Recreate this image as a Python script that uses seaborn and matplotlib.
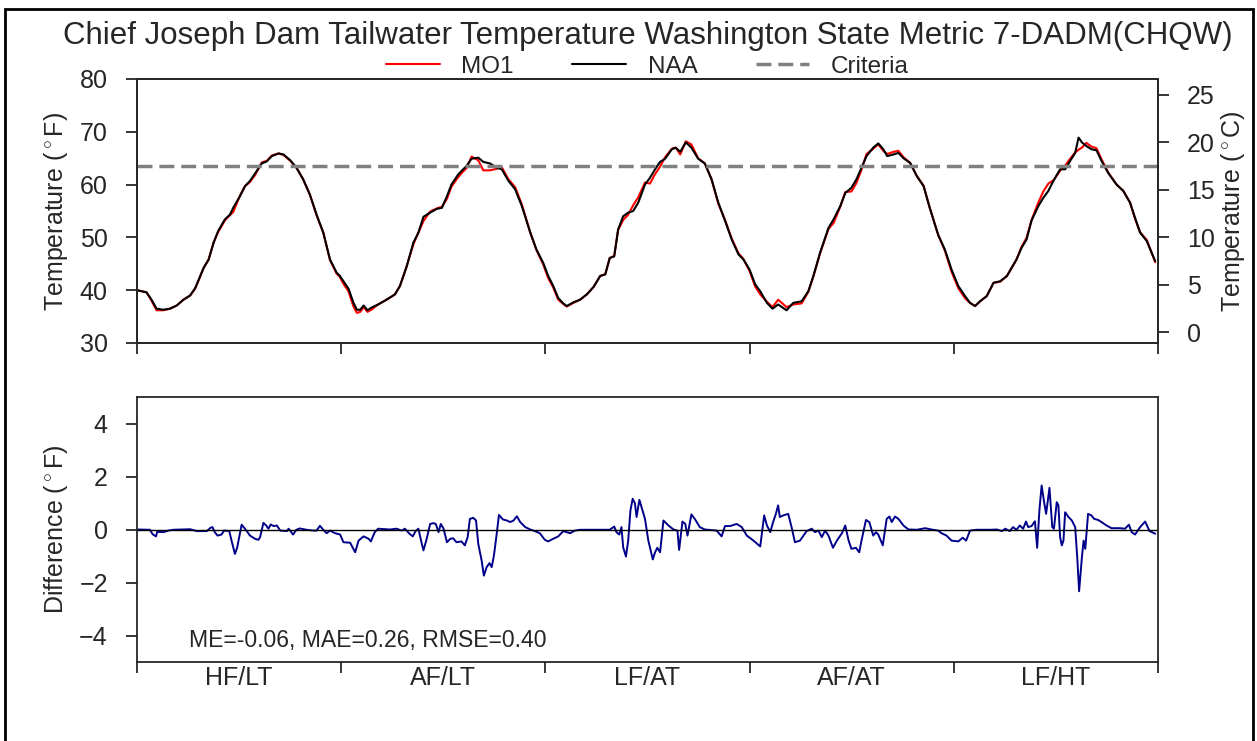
import numpy as np
import matplotlib
matplotlib.use("Agg")
import matplotlib.pyplot as plt
import seaborn as sns
from matplotlib.patches import Rectangle

# ==========================================
# Data (day index 0..1825, 5 years of 365 days)
# ==========================================
naa_day = [
    0, 17, 26, 35, 47, 59, 71, 83, 95, 104, 113, 119, 128, 137, 145, 157, 166, 172, 184, 193,
    202, 211, 223, 232, 241, 253, 262, 274, 285, 297, 309, 321, 333, 345, 357, 362,
    369, 378, 387, 393, 399, 405, 412, 419, 431, 446, 461, 470, 482, 494, 503, 512, 524, 536,
    545, 554, 562, 574, 583, 589, 598, 610, 619, 631, 643, 652, 664, 676, 688, 703, 714, 726,
    735, 744, 753, 762, 768, 780, 792, 804, 816, 828, 837, 845, 853, 860, 869, 878, 887, 896,
    908, 917, 926, 935, 944, 956, 963, 971, 981, 991, 1003, 1015, 1027, 1039, 1051, 1063, 1075, 1084, 1095,
    1105, 1114, 1126, 1136, 1146, 1161, 1173, 1188, 1200, 1209, 1221, 1236, 1245, 1257, 1266, 1277, 1286,
    1295, 1304, 1316, 1325, 1334, 1341, 1352, 1361, 1370, 1382, 1394, 1406, 1417, 1432, 1444, 1456,
    1468, 1480, 1489, 1498, 1507, 1519, 1531, 1543, 1555, 1563, 1572, 1581, 1590, 1599, 1611, 1620, 1629, 1638,
    1650, 1659, 1668, 1677, 1683, 1689, 1697, 1706, 1715, 1724, 1736, 1751, 1763, 1775, 1784, 1793, 1805, 1820,
]
naa_f = [
    40.0, 39.6, 38.2, 36.5, 36.3, 36.5, 37.1, 38.2, 39.0, 40.4, 42.7, 44.2, 45.8, 49.0, 51.2, 53.4, 54.3, 55.6, 57.8, 59.7,
    60.7, 62.1, 64.0, 64.4, 65.4, 65.9, 65.7, 64.6, 63.2, 61.0, 58.1, 54.3, 50.9, 45.8, 43.3, 42.8,
    41.7, 40.3, 37.6, 36.3, 36.3, 37.1, 36.2, 36.7, 37.3, 38.2, 39.2, 40.8, 44.5, 49.0, 50.9, 53.9, 54.7, 55.4,
    55.6, 57.8, 60.0, 61.9, 62.9, 63.5, 64.9, 65.1, 64.3, 64.0, 63.2, 62.9, 60.7, 59.1, 55.9, 50.9, 47.7, 45.2,
    42.7, 40.8, 38.5, 37.5, 37.0, 37.7, 38.2, 39.2, 40.6, 42.7, 43.0, 46.1, 46.4, 51.5, 54.0, 54.7, 55.0, 56.6,
    60.0, 61.3, 62.9, 64.3, 64.9, 66.7, 67.0, 66.2, 68.0, 67.0, 64.9, 64.0, 61.0, 56.6, 53.2, 49.6, 46.8, 45.8, 43.9,
    41.1, 39.8, 37.6, 36.5, 37.3, 36.2, 37.6, 37.9, 39.8, 42.7, 47.1, 51.8, 53.4, 55.9, 58.4, 59.4, 61.0,
    63.2, 65.4, 67.0, 67.8, 66.7, 65.4, 65.7, 66.0, 65.0, 64.1, 61.6, 59.7, 55.6, 50.5, 47.7, 43.9,
    40.8, 38.9, 37.6, 37.0, 37.9, 38.9, 41.4, 41.7, 42.7, 44.2, 45.8, 48.0, 49.6, 53.2, 55.9, 57.5, 58.8, 60.7,
    62.9, 62.9, 64.5, 66.0, 68.9, 68.0, 67.3, 66.7, 66.5, 64.5, 62.2, 60.0, 58.8, 56.6, 53.7, 50.9, 49.3, 45.5,
]
mo1_f = [
    40.0, 39.6, 38.0, 36.2, 36.2, 36.5, 37.1, 38.2, 39.0, 40.3, 42.6, 44.2, 45.8, 49.1, 51.0, 53.2, 54.2, 54.8, 57.9, 59.7,
    60.5, 61.8, 64.2, 64.5, 65.5, 65.9, 65.6, 64.5, 63.2, 61.0, 58.1, 54.2, 50.9, 45.7, 43.1, 42.6,
    41.2, 39.8, 36.9, 35.7, 35.9, 36.8, 35.9, 36.3, 37.3, 38.2, 39.2, 40.8, 44.5, 48.7, 50.9, 53.1, 54.9, 55.5,
    55.8, 57.3, 59.6, 61.4, 62.5, 63.1, 65.3, 64.6, 62.7, 62.7, 63.0, 63.3, 61.0, 59.5, 56.2, 50.9, 47.6, 44.9,
    42.3, 40.5, 38.2, 37.4, 36.9, 37.6, 38.2, 39.2, 40.6, 42.7, 43.0, 46.1, 46.5, 51.4, 53.3, 54.3, 56.1, 57.6,
    60.4, 60.2, 62.0, 63.4, 65.2, 66.8, 67.0, 65.7, 68.2, 67.6, 65.0, 64.0, 61.0, 56.4, 53.3, 49.8, 47.0, 45.9, 43.6,
    40.7, 39.2, 37.8, 36.8, 38.2, 36.8, 37.3, 37.5, 39.7, 42.6, 47.0, 51.6, 52.7, 55.8, 58.6, 58.7, 60.3,
    62.8, 65.8, 66.8, 67.6, 66.4, 65.8, 66.2, 66.4, 65.2, 64.1, 61.6, 59.8, 55.6, 50.5, 47.5, 43.5,
    40.4, 38.5, 37.6, 37.0, 37.9, 38.9, 41.4, 41.6, 42.7, 44.1, 45.8, 48.2, 49.9, 53.3, 56.6, 58.7, 60.2, 60.8,
    62.6, 63.6, 64.9, 66.1, 66.6, 67.0, 67.9, 67.2, 66.9, 64.8, 62.3, 60.0, 58.8, 56.6, 53.5, 51.0, 49.5, 45.3,
]
criteria_f = 63.5

diff_day = [
    0, 23, 28, 34, 36, 47, 56, 65, 95, 107,
    125, 131, 135, 139, 144, 151, 156, 165, 169, 175,
    179, 187, 193, 202, 211, 217, 220, 226, 231, 235,
    239, 244, 250, 256, 268, 271, 279, 285, 291, 303,
    315, 321, 327, 333, 339, 345, 354, 363, 369, 381,
    390, 396, 405, 414, 418, 425, 431, 452, 464, 473,
    479, 487, 493, 498, 503, 507, 512, 517, 524, 530,
    534, 539, 543, 548, 554, 560, 565, 571, 580, 586,
    591, 595, 601, 606, 610, 616, 620, 625, 630, 634,
    638, 643, 647, 654, 661, 667, 673, 679, 685, 694,
    703, 711, 720, 729, 735, 744, 753, 762, 774, 783,
    792, 822, 845, 853, 857, 862, 866, 869, 874, 878,
    882, 886, 890, 893, 898, 908, 914, 922, 926, 930,
    935, 941, 950, 959, 966, 969, 975, 980, 984, 991,
    997, 1006, 1015, 1036, 1045, 1051, 1060, 1072, 1081, 1090,
    1102, 1114, 1121, 1126, 1132, 1137, 1142, 1146, 1149, 1155,
    1164, 1170, 1176, 1185, 1197, 1206, 1212, 1218, 1224, 1230,
    1236, 1244, 1251, 1260, 1266, 1272, 1277, 1285, 1291, 1295,
    1303, 1309, 1316, 1321, 1325, 1333, 1340, 1345, 1349, 1355,
    1361, 1370, 1379, 1394, 1409, 1420, 1432, 1438, 1447, 1456,
    1468, 1476, 1482, 1489, 1501, 1525, 1537, 1546, 1552, 1560,
    1566, 1572, 1578, 1584, 1589, 1593, 1599, 1605, 1609, 1613,
    1617, 1621, 1625, 1631, 1636, 1639, 1644, 1647, 1650, 1653,
    1656, 1659, 1665, 1671, 1677, 1681, 1684, 1689, 1692, 1695,
    1700, 1706, 1711, 1718, 1724, 1733, 1742, 1757, 1766, 1773,
    1778, 1784, 1793, 1802, 1810, 1820,
]
diff_f = [
    0.00, -0.01, -0.18, -0.26, -0.09, -0.10, -0.04, -0.01, 0.01, -0.06,
    -0.06, 0.06, 0.09, -0.10, -0.23, -0.19, -0.04, -0.06, -0.42, -0.92,
    -0.69, 0.18, 0.03, -0.23, -0.35, -0.39, -0.29, 0.25, 0.15, 0.03,
    0.19, 0.13, 0.15, -0.04, -0.06, 0.03, -0.19, -0.01, 0.04, -0.01,
    -0.04, -0.04, 0.14, -0.01, -0.14, -0.04, -0.14, -0.19, -0.48, -0.50,
    -0.86, -0.42, -0.26, -0.35, -0.45, -0.10, 0.03, 0.00, 0.03, -0.04,
    0.03, -0.16, -0.26, -0.06, 0.03, -0.35, -0.79, -0.42, 0.21, 0.24,
    0.21, -0.10, 0.21, 0.03, -0.48, -0.35, -0.33, -0.48, -0.45, -0.60,
    -0.29, 0.40, 0.44, 0.34, -0.54, -1.17, -1.74, -1.42, -1.27, -1.42,
    -0.98, -0.16, 0.55, 0.38, 0.34, 0.28, 0.34, 0.50, 0.28, 0.09,
    0.00, -0.06, -0.14, -0.39, -0.45, -0.35, -0.26, -0.06, -0.14, -0.04,
    -0.01, -0.01, -0.01, 0.11, -0.10, -0.19, 0.09, -0.67, -1.02, -0.42,
    0.72, 1.16, 0.99, 0.47, 1.12, 0.40, -0.42, -1.13, -0.86, -0.69,
    -0.86, 0.34, 0.15, 0.00, -0.04, -0.77, 0.30, 0.21, -0.23, 0.57,
    0.40, 0.09, 0.00, -0.04, -0.26, 0.13, 0.13, 0.21, 0.09, -0.23,
    -0.42, -0.64, 0.53, 0.15, -0.10, 0.28, 0.59, 0.91, 0.47, 0.53,
    0.59, 0.09, -0.48, -0.42, -0.06, 0.03, -0.10, -0.04, -0.29, -0.04,
    -0.23, -0.69, -0.42, -0.14, 0.15, -0.42, -0.73, -0.69, -0.86, -0.42,
    0.36, 0.28, -0.23, -0.10, -0.19, -0.60, 0.40, 0.49, 0.28, 0.49,
    0.40, 0.15, 0.00, -0.01, 0.05, 0.00, -0.04, -0.14, -0.23, -0.42,
    -0.45, -0.31, -0.42, -0.04, -0.01, -0.01, 0.00, -0.06, 0.03, -0.06,
    0.09, -0.01, 0.15, 0.03, 0.30, 0.09, 0.13, 0.31, -0.69, 0.72,
    1.66, 1.09, 0.59, 1.57, 0.09, 0.03, 1.03, 0.91, -0.29, -0.60,
    -0.42, 0.65, 0.47, 0.34, 0.09, -1.17, -2.33, -1.04, -0.42, -0.73,
    0.59, 0.53, 0.40, 0.36, 0.28, 0.15, 0.05, 0.05, 0.03, 0.18,
    -0.10, -0.19, 0.09, 0.30, -0.06, -0.16,
]

year_labels = ["HF/LT", "AF/LT", "LF/AT", "AF/AT", "LF/HT"]
stats_text = "ME=-0.06, MAE=0.26, RMSE=0.40"
title = "Chief Joseph Dam Tailwater Temperature Washington State Metric 7-DADM(CHQW)"

# ==========================================
# Style
# ==========================================
sns.set_theme(style="ticks")
plt.rcParams["font.family"] = ["Liberation Sans", "DejaVu Sans"]
plt.rcParams["mathtext.fontset"] = "custom"
plt.rcParams["mathtext.rm"] = "Liberation Sans"
plt.rcParams["axes.linewidth"] = 1.3

W, H = 1257, 741
fig = plt.figure(figsize=(W / 100, H / 100), dpi=100)
ax = fig.add_axes([137 / W, 1 - 343 / H, 1021 / W, 264 / H])
axd = fig.add_axes([137 / W, 1 - 662 / H, 1021 / W, 265 / H])

edges = np.arange(0, 1826, 365)
centers = edges[:-1] + 182.5

# --- Top panel: temperature ---
sns.lineplot(x=naa_day, y=mo1_f, color="red", lw=1.5, ax=ax, label="MO1")
sns.lineplot(x=naa_day, y=naa_f, color="black", lw=1.5, ax=ax, label="NAA")
ax.axhline(criteria_f, color="gray", ls=(0, (4.3, 2)), lw=2.5, label="Criteria")
ax.set_xlim(0, 1825)
ax.set_ylim(30, 80)
ax.set_xticks(edges)
ax.set_xticklabels([])
ax.set_yticks(range(30, 81, 10))
ax.set_xlabel("")
ax.set_ylabel(r"Temperature ($^\circ$F)", fontsize=18)
ax.yaxis.set_label_coords(-0.066, 0.5)
ax.tick_params(axis="both", length=8, width=1.3, labelsize=18)
ax.tick_params(axis="y", pad=13)
ax.legend(loc="center", bbox_to_anchor=(0.5, 1.047), ncol=3, frameon=False,
          fontsize=17.5, handlelength=2.2, handletextpad=0.9, columnspacing=2.4,
          borderaxespad=0, borderpad=0)

ax2 = ax.twinx()
ax2.set_ylim((30 - 32) / 1.8, (80 - 32) / 1.8)
ax2.set_yticks(range(0, 26, 5))
ax2.set_ylabel(r"Temperature ($^\circ$C)", fontsize=18)
ax2.yaxis.set_label_coords(1.06, 0.5)
ax2.tick_params(axis="y", length=8, width=1.3, labelsize=18, pad=13)

# --- Bottom panel: difference ---
sns.lineplot(x=diff_day, y=diff_f, color="darkblue", lw=1.4, ax=axd)
axd.axhline(0, color="black", lw=1)
axd.set_xlim(0, 1825)
axd.set_ylim(-5, 5)
axd.set_yticks([-4, -2, 0, 2, 4])
axd.set_xticks(edges)
axd.set_xticklabels([])
axd.set_xticks(centers, minor=True)
axd.set_xticklabels(year_labels, minor=True)
axd.tick_params(axis="x", which="minor", length=0, pad=3, labelsize=18)
axd.tick_params(axis="both", which="major", length=8, width=1.3, labelsize=18)
axd.tick_params(axis="y", pad=13)
axd.set_xlabel("")
axd.set_ylabel(r"Difference ($^\circ$F)", fontsize=18)
axd.yaxis.set_label_coords(-0.066, 0.5)
axd.text(0.051, 0.083, stats_text, transform=axd.transAxes, fontsize=16.6,
         va="center", ha="left", color=".15")

fig.suptitle(title, x=648 / W, y=1 - 36 / H, va="center", fontsize=22.5, color=".15")

# Figure frame
fig.patches.append(Rectangle((5 / W, -0.02), 1248 / W, 1 - 9 / H + 0.02,
                             transform=fig.transFigure, fill=False,
                             edgecolor="black", lw=2))

plt.savefig("out.png", dpi=100)
